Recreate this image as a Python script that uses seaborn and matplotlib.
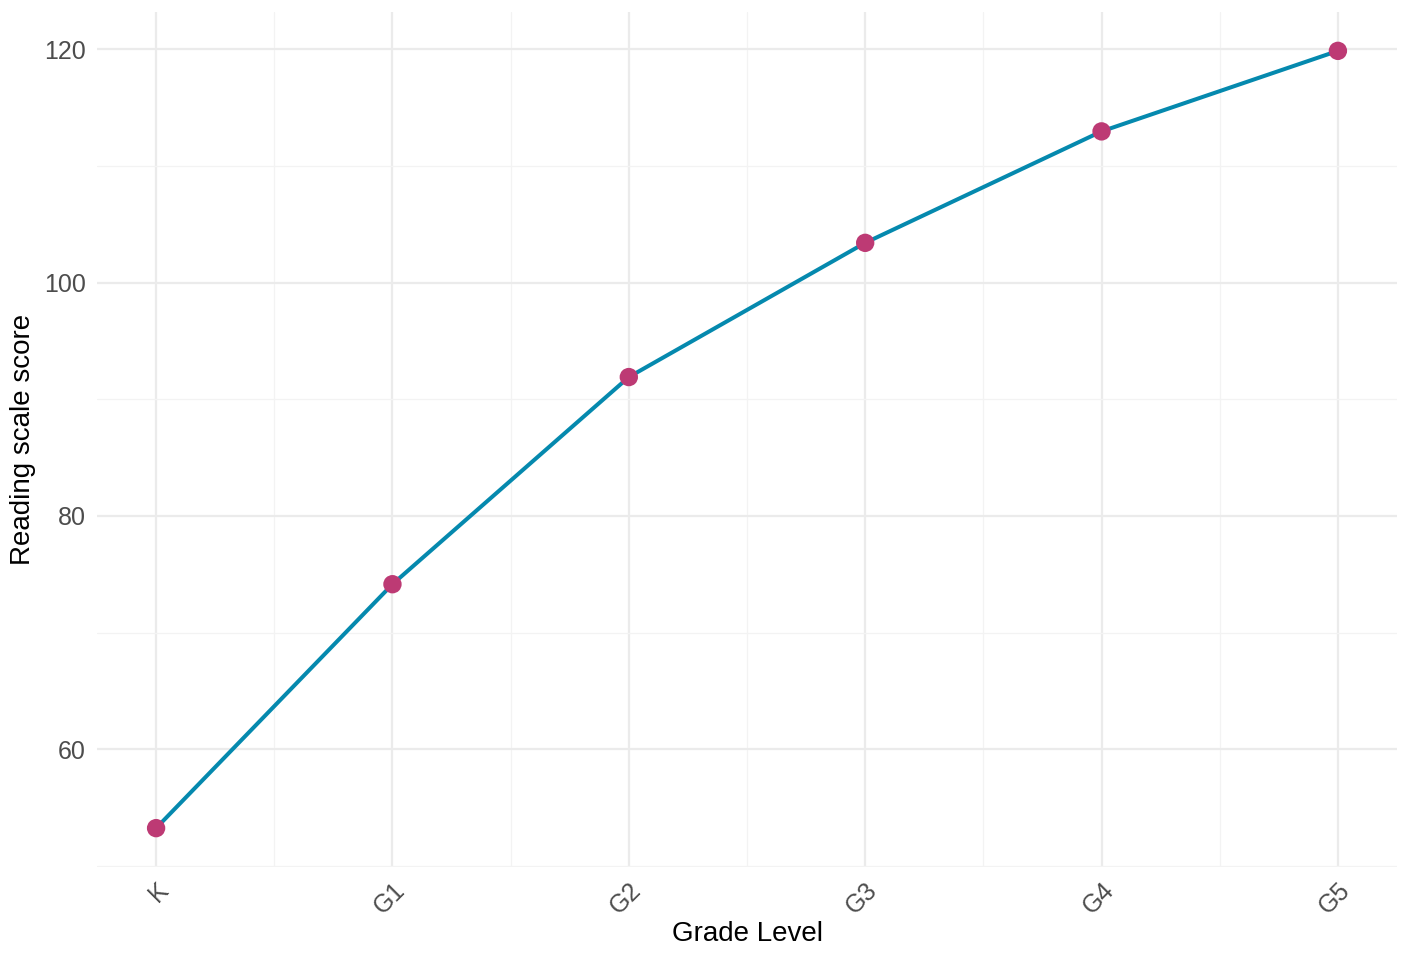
import numpy as np
import pandas as pd
import matplotlib
matplotlib.use("Agg")
import matplotlib.pyplot as plt
import seaborn as sns

grades = ["K", "G1", "G2", "G3", "G4", "G5"]
scores = [53.25, 74.15, 91.9, 103.4, 112.95, 119.85]

LINE_COLOR = "#0589AE"
POINT_COLOR = "#BD3A74"

sns.set_theme(style="whitegrid")
plt.rcParams["font.family"] = ["Liberation Sans", "DejaVu Sans"]

df = pd.DataFrame({"pos": np.arange(len(grades)), "grade": grades, "score": scores})

fig = plt.figure(figsize=(14.09, 9.57), dpi=100)
ax = fig.add_axes([97 / 1409, 1 - 867 / 957, 1300 / 1409, 855 / 957])

sns.lineplot(data=df, x="pos", y="score", color=LINE_COLOR, linewidth=2.9, ax=ax, zorder=3)
sns.scatterplot(data=df, x="pos", y="score", color=POINT_COLOR, s=175, edgecolor="none", ax=ax, zorder=4)

# ggplot-like 5% expansion
span = max(scores) - min(scores)
ax.set_ylim(min(scores) - 0.05 * span, max(scores) + 0.05 * span)
ax.set_xlim(-0.25, len(grades) - 1 + 0.25)

ax.set_yticks([60, 80, 100, 120])
ax.set_yticks([50, 70, 90, 110], minor=True)
ax.set_xticks(df["pos"])
ax.set_xticks(df["pos"][:-1] + 0.5, minor=True)
ax.set_xticklabels(grades, rotation=45, ha="right", rotation_mode="anchor")

ax.grid(which="major", color="#EBEBEB", linewidth=1.6)
ax.grid(which="minor", color="#F3F3F3", linewidth=0.9)
ax.set_axisbelow(True)
for s in ax.spines.values():
    s.set_visible(False)
ax.set_facecolor("white")

ax.tick_params(axis="both", which="both", length=0, labelsize=18, labelcolor="#4D4D4D")
ax.tick_params(axis="x", pad=8)
ax.tick_params(axis="y", pad=8)

ax.set_xlabel("Grade Level", fontsize=20, color="black", labelpad=2)
ax.set_ylabel("Reading scale score", fontsize=20, color="black", labelpad=6)

fig.savefig("out.png", dpi=100, facecolor="white")
